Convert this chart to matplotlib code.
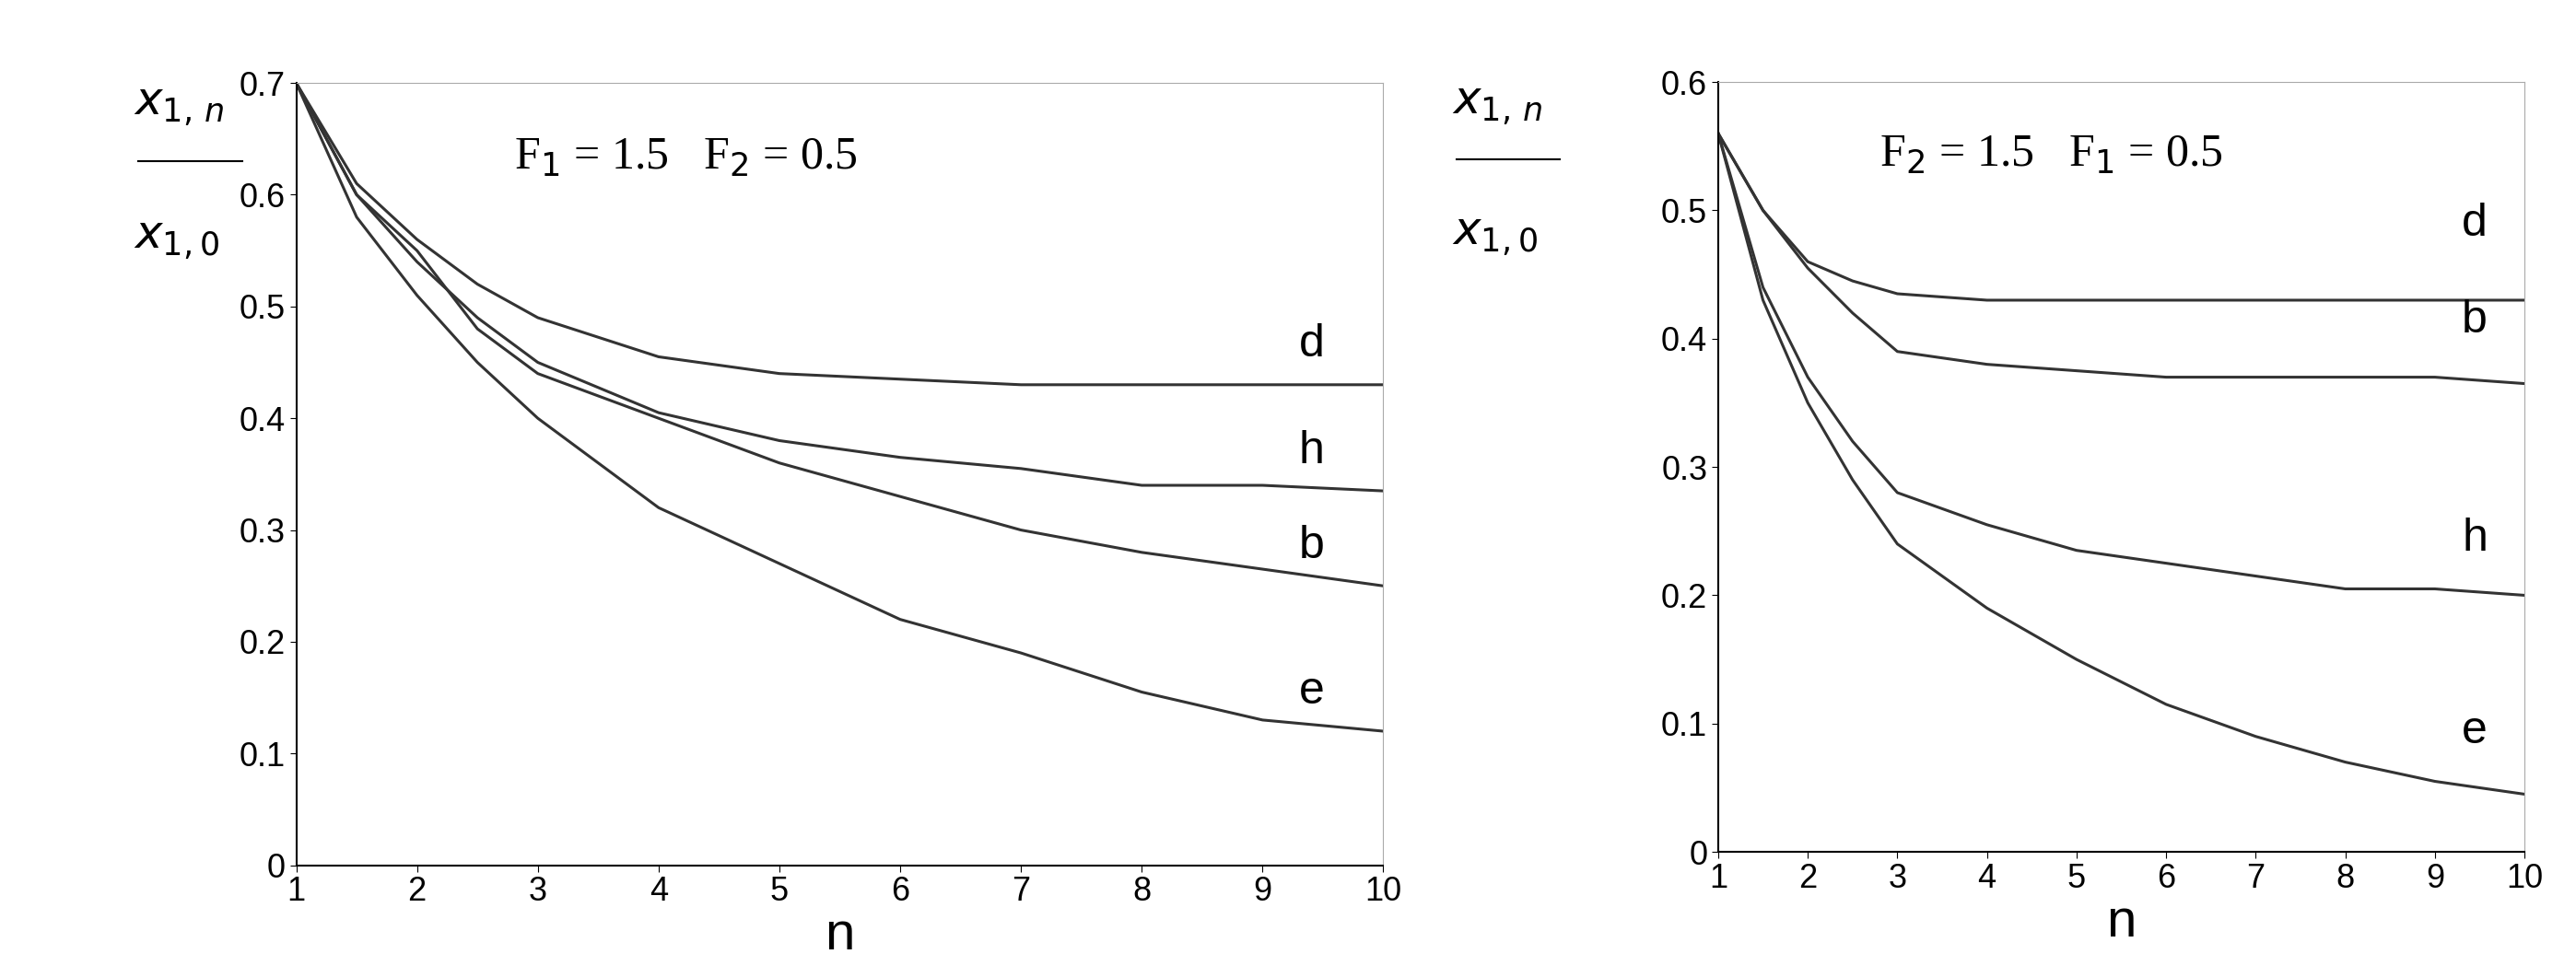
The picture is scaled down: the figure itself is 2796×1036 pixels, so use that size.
import matplotlib.pyplot as plt

n = [1, 1.5, 2, 2.5, 3, 4, 5, 6, 7, 8, 9, 10]

# left panel: F1 = 1.5, F2 = 0.5
left_d = [0.70, 0.61, 0.56, 0.52, 0.49, 0.455, 0.44, 0.435, 0.43, 0.43, 0.43, 0.43]
left_h = [0.70, 0.60, 0.54, 0.49, 0.45, 0.405, 0.38, 0.365, 0.355, 0.34, 0.34, 0.335]
left_b = [0.70, 0.60, 0.55, 0.48, 0.44, 0.40, 0.36, 0.33, 0.30, 0.28, 0.265, 0.25]
left_e = [0.70, 0.58, 0.51, 0.45, 0.40, 0.32, 0.27, 0.22, 0.19, 0.155, 0.13, 0.12]

# right panel: F2 = 1.5, F1 = 0.5
right_d = [0.56, 0.50, 0.46, 0.445, 0.435, 0.43, 0.43, 0.43, 0.43, 0.43, 0.43, 0.43]
right_b = [0.56, 0.50, 0.455, 0.42, 0.39, 0.38, 0.375, 0.37, 0.37, 0.37, 0.37, 0.365]
right_h = [0.56, 0.44, 0.37, 0.32, 0.28, 0.255, 0.235, 0.225, 0.215, 0.205, 0.205, 0.20]
right_e = [0.56, 0.43, 0.35, 0.29, 0.24, 0.19, 0.15, 0.115, 0.09, 0.07, 0.055, 0.045]

fig = plt.figure(figsize=(27.96, 10.36), dpi=100)
axL = fig.add_axes([0.115, 0.093, 0.422, 0.82])
axR = fig.add_axes([0.667, 0.107, 0.313, 0.807])

def setup(ax, ymax, title, series, labels, labpos, fx):
    for ys, lab, ly in zip(series, labels, labpos):
        ax.plot(n, ys, color='#333333', lw=2.2)
        ax.text(9.3, ly, lab, fontsize=36, family='Liberation Sans')
    ax.set_xlim(1, 10)
    ax.set_ylim(0, ymax)
    ax.set_xticks(range(1, 11))
    k = int(round(ymax * 10))
    ax.set_yticks([i / 10 for i in range(k + 1)])
    ax.set_yticklabels(['0'] + ['%.1f' % (i / 10) for i in range(1, k + 1)])
    ax.tick_params(labelsize=26, length=5, direction='out')
    for lab in ax.get_xticklabels() + ax.get_yticklabels():
        lab.set_family('Liberation Sans')
    for s in ['top', 'right']:
        ax.spines[s].set_color('#aaaaaa')
    for s in ['left', 'bottom']:
        ax.spines[s].set_linewidth(1.5)
    ax.set_xlabel('n', fontsize=42, family='Liberation Sans', labelpad=2)
    ax.text(0.2, 0.89, title, transform=ax.transAxes, fontsize=36, family='Liberation Serif')
    # y-axis label as a fraction x_{1,n} / x_{1,0}
    ax.text(fx, 0.96, r'$\mathit{x}_{1,\,n}$', transform=ax.transAxes, fontsize=36, ha='left')
    ax.plot([fx + 0.005, fx + 0.005 + 0.095 * 0.422 / ax.get_position().width],
            [0.9, 0.9], transform=ax.transAxes, color='k', lw=1.5, clip_on=False)
    ax.text(fx, 0.79, r'$\mathit{x}_{1,0}$', transform=ax.transAxes, fontsize=36, ha='left')

setup(axL, 0.7, r'F$_1$ = 1.5   F$_2$ = 0.5', [left_d, left_h, left_b, left_e],
      ['d', 'h', 'b', 'e'], [0.455, 0.36, 0.275, 0.145], -0.15)
setup(axR, 0.6, r'F$_2$ = 1.5   F$_1$ = 0.5', [right_d, right_b, right_h, right_e],
      ['d', 'b', 'h', 'e'], [0.48, 0.405, 0.235, 0.085], -0.33)

fig.savefig('out.png', facecolor='white')
